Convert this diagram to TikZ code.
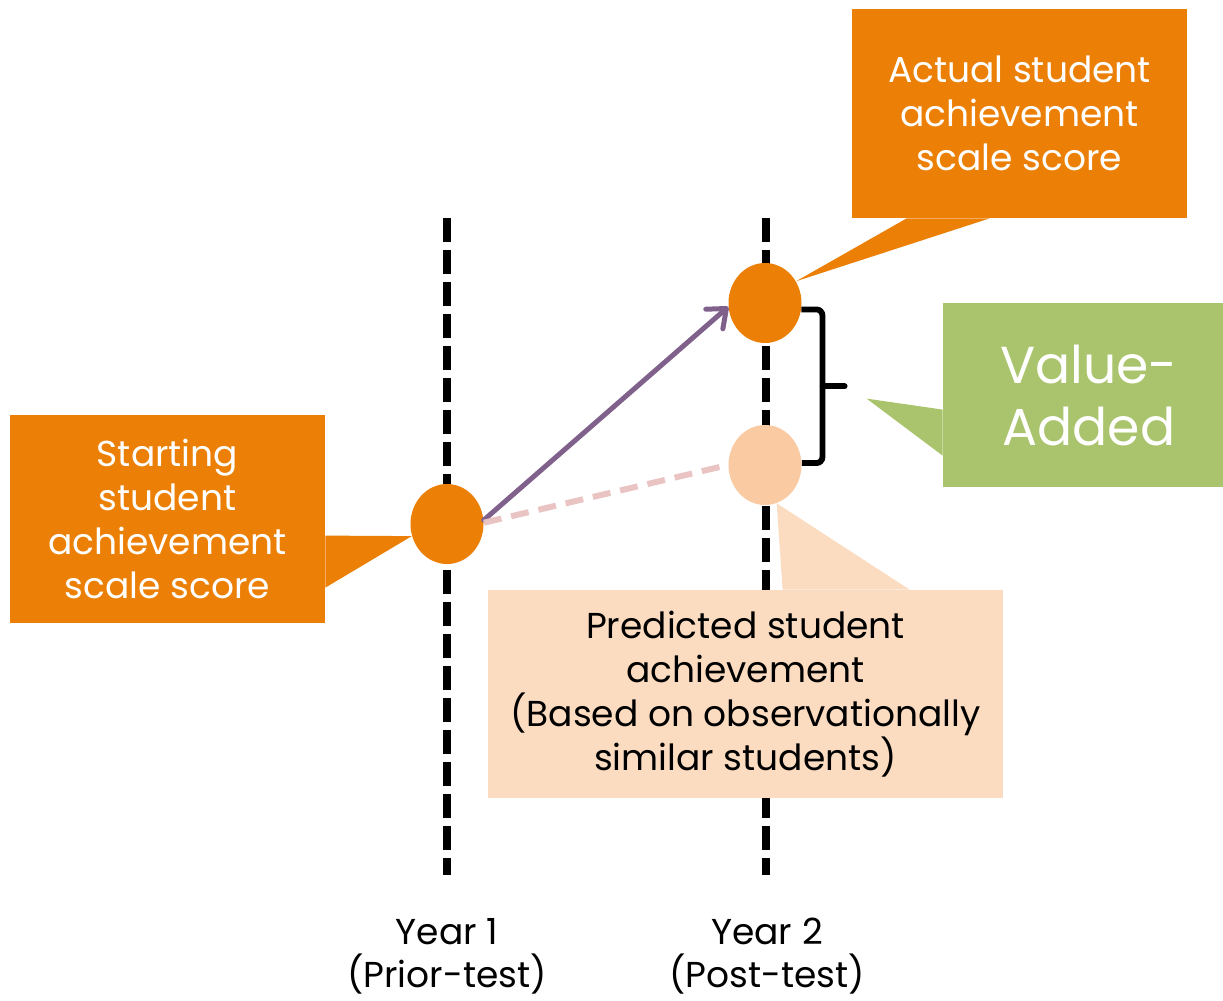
\documentclass[tikz,border=0pt]{standalone}
\usepackage{fontspec}
\setmainfont{Poppins}
\usepackage{tikz}
\usetikzlibrary{shapes.geometric, arrows.meta, positioning, calc}
\definecolor{VAOrange}{RGB}{236, 128, 6}
\definecolor{VAGreen}{RGB}{170, 196, 109}
\definecolor{VAPeach}{RGB}{251, 220, 193}
\definecolor{VAPeachDot}{RGB}{250, 203, 163}
\definecolor{VAPurple}{RGB}{128, 97, 139}
\definecolor{VAPink}{RGB}{233, 196, 195}

\begin{document}
\begin{tikzpicture}[x=0.5pt,y=-0.5pt,
    yearline/.style={line width=4.25pt, dash pattern=on 12pt off 4pt},
    scoredot/.style={ellipse, inner sep=0pt, minimum width=36.5pt, minimum height=40pt},
    callout/.style={rectangle, inner sep=0pt, align=center,
                    font=\fontsize{18}{22}\selectfont},
    yearlabel/.style={align=center, font=\fontsize{18}{21.5}\selectfont}]
  \path[use as bounding box] (0,0) rectangle (1223,1001);

  % Year 1 and Year 2 test lines
  \draw[yearline] (447,218) -- (447,875);
  \draw[yearline] (766,218) -- (766,875);

  % Scores
  \node[scoredot, fill=VAOrange] (startdot) at (447,524) {};
  \node[scoredot, fill=VAOrange] (actualdot) at (765,303) {};
  \node[scoredot, fill=VAPeachDot] (preddot) at (765,465) {};

  % Actual growth and predicted growth
  \draw[VAPurple, line width=2.5pt, line cap=round,
        -{Straight Barb[length=8pt, width=13pt, round]}] (startdot.6) -- (actualdot.186);
  \draw[VAPink, line width=3pt, dash pattern=on 9pt off 5pt] (startdot.2) -- (preddot.180);

  % Starting score
  \node[callout, fill=VAOrange, text=white, minimum width=157.5pt, minimum height=104pt]
    (startbox) at (167.5,519) {Starting\\student\\achievement\\scale score};
  \fill[VAOrange] ($(startbox.north east)+(0,121)$) -- (startdot.199)
    -- ($(startbox.north east)+(0,173)$) -- cycle;

  % Actual score
  \node[callout, fill=VAOrange, text=white, minimum width=167.5pt, minimum height=104.5pt]
    (actualbox) at (1019.5,113.5) {Actual student\\achievement\\scale score};
  \fill[VAOrange] ($(actualbox.south west)+(55,0)$) -- (actualdot.35)
    -- ($(actualbox.south west)+(138,0)$) -- cycle;

  % Value-added
  \node[callout, fill=VAGreen, text=white, minimum width=140pt, minimum height=92pt,
        font=\fontsize{26}{31}\selectfont]
    (valuebox) at (1083,395) {\hspace*{6pt}Value-\\\hspace*{6pt}Added};
  \coordinate (valuetip) at ($(valuebox.north west)+(-76,96)$);
  \fill[VAGreen] ($(valuebox.north west)+(0,107)$) -- (valuetip)
    -- ($(valuebox.north west)+(0,153)$) -- cycle;

  % Predicted score
  \node[callout, fill=VAPeach, minimum width=257.5pt, minimum height=104pt]
    (predbox) at (745.5,694) {Predicted student\\achievement\\(Based on observationally\\similar students)};
  \fill[VAPeach] ($(predbox.north west)+(295,0)$) -- (preddot.-73)
    -- ($(predbox.north west)+(422,0)$) -- cycle;

  % Gap between actual and predicted
  \draw[line width=2.9pt, rounded corners=3pt] (actualdot.-10) -- ++(21,0) |- (preddot.3);
  \draw[line width=2.9pt, line cap=round] ($(actualdot.-10)!0.5!(preddot.3)+(21,0)$) -- ++(22,0);

  % Test years
  \node[yearlabel] (yearone) at (447,956) {Year 1\\(Prior-test)};
  \node[yearlabel] (yeartwo) at (767,956) {Year 2\\(Post-test)};
\end{tikzpicture}
\end{document}
